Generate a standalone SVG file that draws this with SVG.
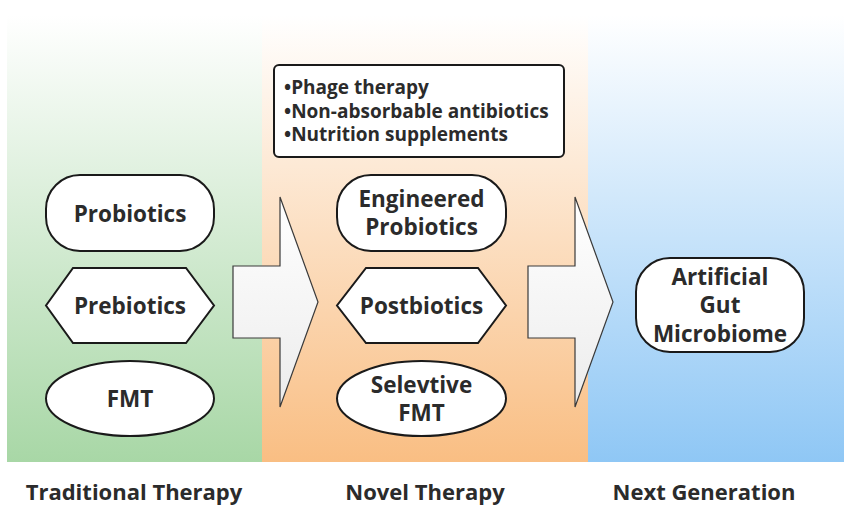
<svg xmlns="http://www.w3.org/2000/svg" width="851" height="512" viewBox="0 0 851 512">
<defs>
<linearGradient id="gGreen" x1="0" y1="0" x2="0" y2="1"><stop offset="0" stop-color="#ffffff"/><stop offset="1" stop-color="#a8d7a6"/></linearGradient>
<linearGradient id="gOrange" x1="0" y1="0" x2="0" y2="1"><stop offset="0" stop-color="#ffffff"/><stop offset="1" stop-color="#f9be83"/></linearGradient>
<linearGradient id="gBlue" x1="0" y1="0" x2="0" y2="1"><stop offset="0" stop-color="#ffffff"/><stop offset="1" stop-color="#8fc7f5"/></linearGradient>
<linearGradient id="gArrow" x1="0" y1="0" x2="0" y2="1"><stop offset="0" stop-color="#ffffff"/><stop offset="1" stop-color="#ececec"/></linearGradient>
<style>
.node{fill:#ffffff;stroke:#1a1a1a;stroke-width:2}
.lbl{font-family:"Open Sans","Liberation Sans",sans-serif;font-weight:bold;font-size:22.5px;fill:#2b2b2b;text-anchor:middle}
.list{font-family:"Open Sans","Liberation Sans",sans-serif;font-weight:bold;font-size:19px;fill:#2b2b2b}
.cap{font-family:"Open Sans","Liberation Sans",sans-serif;font-weight:bold;font-size:22px;fill:#2b2b2b;text-anchor:middle}
.arrow{fill:url(#gArrow);stroke:#3a3a3a;stroke-width:1.2}
</style>
</defs>
<rect width="851" height="512" fill="#ffffff"/>
<g id="panels">
<rect x="7" y="15" width="255" height="447" fill="url(#gGreen)"/>
<rect x="262" y="15" width="326" height="447" fill="url(#gOrange)"/>
<rect x="588" y="15" width="256" height="447" fill="url(#gBlue)"/>
</g>
<g id="connectors">
<path class="arrow" d="M233,266 L280,266 L280,197 L318,302 L280,407 L280,338 L233,338 Z"/>
<path class="arrow" d="M528,266 L575,266 L575,197 L613,302 L575,407 L575,338 L528,338 Z"/>
</g>
<g id="probiotics">
<rect class="node" x="46" y="175" width="168" height="76" rx="34" ry="34"/>
<text class="lbl" x="130" y="222">Probiotics</text>
</g>
<g id="prebiotics">
<polygon class="node" points="73,268 186,268 214,305.5 186,343 73,343 46,305.5"/>
<text class="lbl" x="130" y="314">Prebiotics</text>
</g>
<g id="fmt">
<ellipse class="node" cx="130" cy="398.5" rx="84" ry="37.5"/>
<text class="lbl" x="130" y="407">FMT</text>
</g>
<g id="novel-list">
<rect class="node" x="274" y="65" width="290" height="92" rx="5" ry="5"/>
<text class="list" x="284" y="94">•Phage therapy</text>
<text class="list" x="284" y="118">•Non-absorbable antibiotics</text>
<text class="list" x="284" y="141">•Nutrition supplements</text>
</g>
<g id="engineered-probiotics">
<rect class="node" x="337" y="175" width="169" height="76" rx="34" ry="34"/>
<text class="lbl" x="421.5" y="207">Engineered</text>
<text class="lbl" x="421.5" y="235">Probiotics</text>
</g>
<g id="postbiotics">
<polygon class="node" points="366,268 478,268 506,305.5 478,343 366,343 337,305.5"/>
<text class="lbl" x="421.5" y="314">Postbiotics</text>
</g>
<g id="selective-fmt">
<ellipse class="node" cx="421.5" cy="398.5" rx="84.5" ry="37.5"/>
<text class="lbl" x="421.5" y="393">Selevtive</text>
<text class="lbl" x="421.5" y="421">FMT</text>
</g>
<g id="artificial-gut-microbiome">
<rect class="node" x="636" y="258" width="168" height="94" rx="34" ry="34"/>
<text class="lbl" x="720" y="285">Artificial</text>
<text class="lbl" x="720" y="313">Gut</text>
<text class="lbl" x="720" y="342">Microbiome</text>
</g>
<g id="captions">
<text class="cap" x="134" y="500">Traditional Therapy</text>
<text class="cap" x="425" y="500">Novel Therapy</text>
<text class="cap" x="704" y="500">Next Generation</text>
</g>
</svg>
